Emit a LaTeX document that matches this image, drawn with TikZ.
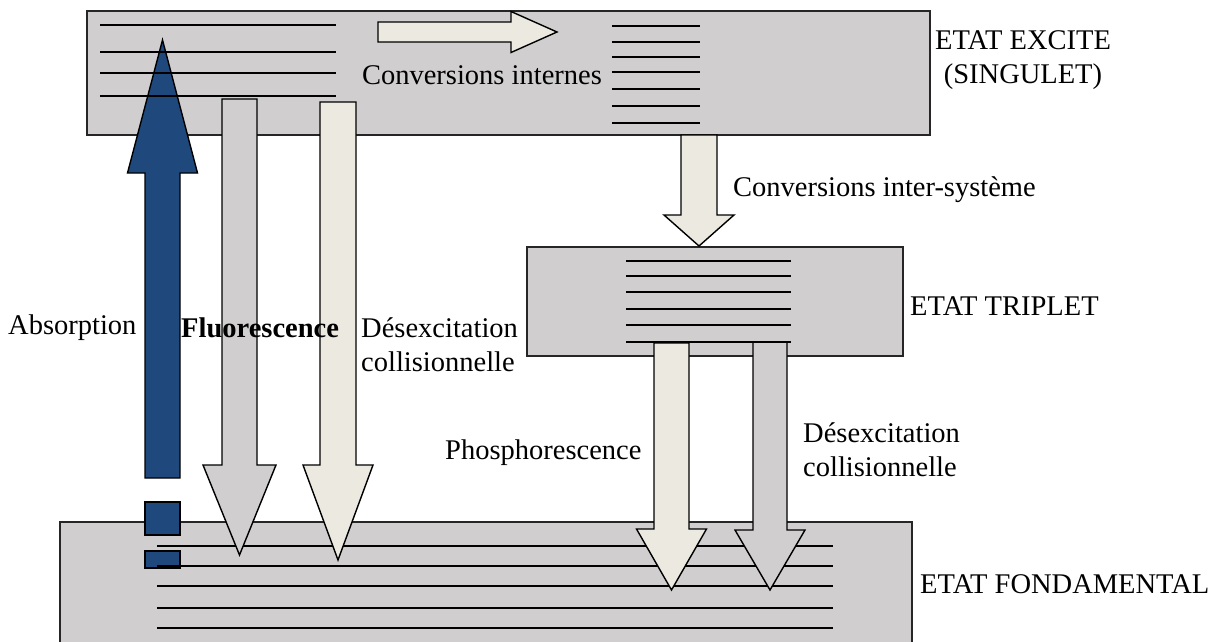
\documentclass[tikz,border=0pt]{standalone}
\usepackage{fontspec}
\setmainfont{Liberation Serif}
\usepackage{tikz}
\usetikzlibrary{calc}
\definecolor{boxgray}{HTML}{D0CECF}
\definecolor{beige}{HTML}{ECEAE0}
\definecolor{navy}{HTML}{1F497D}
\tikzset{
  level/.style={fill=boxgray,draw=black!85,line width=1.4pt},
  lvl/.style={line width=2.6pt},
  blockarrow/.style={draw=black,line width=1.4pt,line join=miter},
  lab/.style={font=\fontsize{28.5}{34}\selectfont,inner sep=0pt}
}
% fill, from, tip, shaft half width, head half width, head length
\newcommand{\fatarrow}[6]{%
  \coordinate (fa-h) at ($(#3)!#6pt!(#2)$);
  \draw[blockarrow,fill=#1] ($(#2)!#4pt!90:(#3)$) -- ($(fa-h)!#4pt!-90:(#2)$)
    -- ($(fa-h)!#5pt!-90:(#2)$) -- (#3) -- ($(fa-h)!#5pt!90:(#2)$)
    -- ($(fa-h)!#4pt!90:(#2)$) -- ($(#2)!#4pt!-90:(#3)$) -- cycle;
}
\begin{document}
\begin{tikzpicture}[x=1pt,y=-1pt]
\clip (0,0) rectangle (1229,642);
% energy states
\draw[level] (87,11) rectangle (930,135);
\draw[level] (527,247) rectangle (903,356);
\draw[level] (60,522) rectangle (912,660);
% broken end of the absorption arrow
\draw[blockarrow,fill=navy] (145,502) rectangle (180,535);
\draw[blockarrow,fill=navy] (145,551) rectangle (180,568);
\foreach \y in {546,566,586,608,628} \draw[lvl] (157,\y) -- (833,\y);
% transitions
\coordinate (abs-s) at (162.5,478);  \coordinate (abs-t) at (162.5,40);
\coordinate (fluo-s) at (239.5,99);  \coordinate (fluo-t) at (239.5,555);
\coordinate (dc1-s) at (338,102);    \coordinate (dc1-t) at (338,560);
\coordinate (ci-s) at (378,32);      \coordinate (ci-t) at (557,32);
\coordinate (cis-s) at (699,135);    \coordinate (cis-t) at (699,246);
\coordinate (ph-s) at (671.5,343);   \coordinate (ph-t) at (671.5,590);
\coordinate (dc2-s) at (770,342);    \coordinate (dc2-t) at (770,590);
\fatarrow{navy}{abs-s}{abs-t}{17.5}{35}{133}
\fatarrow{boxgray}{fluo-s}{fluo-t}{17.5}{36.5}{90}
\fatarrow{beige}{dc1-s}{dc1-t}{18}{35}{95}
\fatarrow{beige}{ci-s}{ci-t}{10}{20.5}{46}
\fatarrow{beige}{cis-s}{cis-t}{18}{35}{31}
\fatarrow{beige}{ph-s}{ph-t}{17.5}{35}{61}
\fatarrow{boxgray}{dc2-s}{dc2-t}{17}{35}{60}
% vibrational levels
\foreach \y in {25,52,73,96} \draw[lvl] (100,\y) -- (336,\y);
\foreach \y in {26,42,57,72,89,106,123} \draw[lvl] (612,\y) -- (700,\y);
\foreach \y in {261,276,292,309,325,342} \draw[lvl] (626,\y) -- (791,\y);
% labels
\node[lab] (convint) at (482,75) {Conversions internes};
\node[lab,align=center] (excite) at (1023,60) {ETAT EXCITE\\(SINGULET)};
\node[lab,anchor=west] (convis) at (733,190) {Conversions inter-système};
\node[lab,anchor=west] (triplet) at (910,306) {ETAT TRIPLET};
\node[lab,anchor=west] (absorb) at (8,328) {Absorption};
\node[lab,anchor=west] (fluo) at (181,328) {\textbf{Fluorescence}};
\node[lab,anchor=west,align=left] (desexc1) at (361,345) {Désexcitation\\collisionnelle};
\node[lab,anchor=west] (phospho) at (445,453) {Phosphorescence};
\node[lab,anchor=west,align=left] (desexc2) at (803,450) {Désexcitation\\collisionnelle};
\node[lab,anchor=west] (fond) at (920,584) {ETAT FONDAMENTAL};
\end{tikzpicture}
\end{document}
